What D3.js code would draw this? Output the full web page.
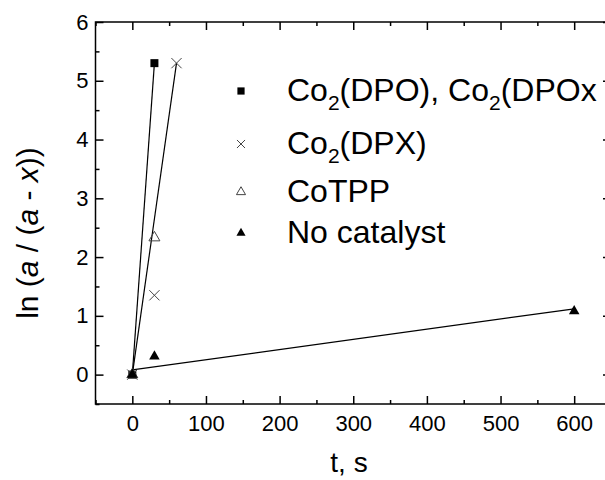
<!DOCTYPE html>
<html lang="en">
<head>
<meta charset="utf-8">
<style>
    body { margin: 0; background: #fff; }
    svg { display: block; font-family: "Liberation Sans", Arial, sans-serif; }
</style>
</head>
<body>
<svg width="605" height="480"></svg>
<script src="https://cdn.jsdelivr.net/npm/d3@7/dist/d3.min.js"></script>
<script>
// data
var legendNames = ["Co2(DPO), Co2(DPOx", "Co2(DPX)", "CoTPP", "No catalyst"];
var dpoT = [0, 30],         dpoY = [0, 5.3];
var dpxT = [0, 30, 60],     dpxY = [0, 1.35, 5.3];
var tppT = [0, 30],         tppY = [0, 2.33];
var noCatT = [0, 30, 600],  noCatY = [0, 0.31, 1.08];
// fitted straight lines (start / end)
var dpoFitT = [0, 30],   dpoFitY = [0, 5.3];
var dpxFitT = [0, 60],   dpxFitY = [0, 5.3];
var noCatFitT = [0, 600], noCatFitY = [0.08, 1.12];
var xTicks = [0, 100, 200, 300, 400, 500, 600];
var yTicks = [0, 1, 2, 3, 4, 5, 6];

var svg = d3.select("svg");

var x = d3.scaleLinear().domain([-50, 650]).range([95.5, 611]);
var y = d3.scaleLinear().domain([-0.5, 6]).range([404, 22]);

function pts(ts, ys) {
    return ts.map(function(t, i) { return [t, ys[i]]; });
}

var xMinor = d3.range(-50, 651, 50).filter(function(v) { return v % 100 !== 0; });
var yMinor = d3.range(-0.5, 6.01, 0.5).filter(function(v) { return v % 1 !== 0; });

// axes, ticks pointing inward
function styleAxis(g) {
    g.select(".domain").remove();
    g.selectAll(".tick line").attr("stroke", "#000").attr("stroke-width", 1.5);
}

svg.append("g").attr("transform", "translate(0,404)")
    .call(d3.axisBottom(x).tickValues(xTicks).tickSize(-8).tickPadding(11).tickFormat(d3.format("d")))
    .call(styleAxis)
    .selectAll("text").attr("font-size", 22).attr("fill", "#000")
    .attr("font-family", "Liberation Sans, Arial, sans-serif");
svg.append("g").attr("transform", "translate(0,404)")
    .call(d3.axisBottom(x).tickValues(xMinor).tickSize(-4).tickFormat(""))
    .call(styleAxis);
svg.append("g").attr("transform", "translate(0,22)")
    .call(d3.axisTop(x).tickValues(xTicks).tickSize(-8).tickFormat(""))
    .call(styleAxis);
svg.append("g").attr("transform", "translate(0,22)")
    .call(d3.axisTop(x).tickValues(xMinor).tickSize(-4).tickFormat(""))
    .call(styleAxis);

svg.append("g").attr("transform", "translate(95.5,0)")
    .call(d3.axisLeft(y).tickValues(yTicks).tickSize(-8).tickPadding(7).tickFormat(d3.format("d")))
    .call(styleAxis)
    .selectAll("text").attr("font-size", 22).attr("fill", "#000")
    .attr("font-family", "Liberation Sans, Arial, sans-serif");
svg.append("g").attr("transform", "translate(95.5,0)")
    .call(d3.axisLeft(y).tickValues(yMinor).tickSize(-4).tickFormat(""))
    .call(styleAxis);
svg.append("g").attr("transform", "translate(611,0)")
    .call(d3.axisRight(y).tickValues(yTicks).tickSize(-8).tickFormat(""))
    .call(styleAxis);
svg.append("g").attr("transform", "translate(611,0)")
    .call(d3.axisRight(y).tickValues(yMinor).tickSize(-4).tickFormat(""))
    .call(styleAxis);

// frame
svg.append("rect")
    .attr("x", x(-50)).attr("y", y(6))
    .attr("width", x(650) - x(-50)).attr("height", y(-0.5) - y(6))
    .attr("fill", "none").attr("stroke", "#000").attr("stroke-width", 1.5);

// fit lines
var line = d3.line().x(function(d) { return x(d[0]); }).y(function(d) { return y(d[1]); });
[pts(dpoFitT, dpoFitY), pts(dpxFitT, dpxFitY), pts(noCatFitT, noCatFitY)].forEach(function(p) {
    svg.append("path").attr("d", line(p))
        .attr("fill", "none").attr("stroke", "#000").attr("stroke-width", 1.2);
});

// markers
var series = [
    { data: pts(dpoT, dpoY), type: d3.symbolSquare, size: 64, fill: "#000", stroke: "none", lsize: 52 },
    { data: pts(dpxT, dpxY), type: d3.symbolTimes, size: 70, fill: "none", stroke: "#444", lsize: 44 },
    { data: pts(tppT, tppY), type: d3.symbolTriangle, size: 52, fill: "none", stroke: "#444", lsize: 36 },
    { data: pts(noCatT, noCatY), type: d3.symbolTriangle, size: 48, fill: "#000", stroke: "none", lsize: 36 }
];

series.forEach(function(s) {
    svg.append("g").selectAll("path")
        .data(s.data)
        .enter().append("path")
        .attr("transform", function(d) { return "translate(" + x(d[0]) + "," + y(d[1]) + ")"; })
        .attr("d", d3.symbol().type(s.type).size(s.size))
        .attr("fill", s.fill).attr("stroke", s.stroke).attr("stroke-width", 1);
});

// legend
var legendBase = [101, 154, 202, 243];
var legend = svg.append("g");
series.forEach(function(s, i) {
    legend.append("path")
        .attr("transform", "translate(241," + (legendBase[i] - 10) + ")")
        .attr("d", d3.symbol().type(s.type).size(s.lsize))
        .attr("fill", s.fill).attr("stroke", s.stroke).attr("stroke-width", 1);

    var txt = legend.append("text")
        .attr("x", 287).attr("y", legendBase[i])
        .attr("font-size", 32).attr("fill", "#000");
    // "Co2" -> subscript 2
    var parts = legendNames[i].split(/(Co2)/).filter(function(p) { return p !== ""; });
    var shift = 0;
    parts.forEach(function(p) {
        if (p === "Co2") {
            txt.append("tspan").attr("dy", -shift).text("Co");
            txt.append("tspan").attr("font-size", 21).attr("dy", 9).text("2");
            shift = 9;
        } else {
            txt.append("tspan").attr("dy", -shift).text(p);
            shift = 0;
        }
    });
});

// axis titles
svg.append("text")
    .attr("x", 349).attr("y", 472)
    .attr("text-anchor", "middle").attr("font-size", 28)
    .text("t, s");

var yl = svg.append("text")
    .attr("transform", "translate(38,233) rotate(-90)")
    .attr("text-anchor", "middle").attr("font-size", 30);
yl.append("tspan").text("ln (");
yl.append("tspan").attr("font-style", "italic").text("a");
yl.append("tspan").text(" / (");
yl.append("tspan").attr("font-style", "italic").text("a");
yl.append("tspan").text(" - ");
yl.append("tspan").attr("font-style", "italic").text("x");
yl.append("tspan").text("))");
</script>
</body>
</html>
